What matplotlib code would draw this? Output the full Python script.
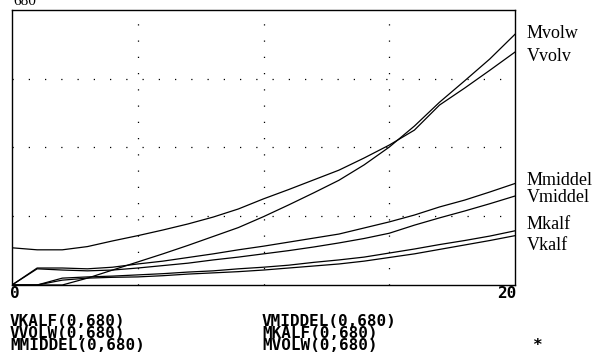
import numpy as np
import matplotlib
matplotlib.use("Agg")
import matplotlib.pyplot as plt

# ages 0..20, values (scale 0..680)
years = np.arange(21)

mvolw = [0, 0, 0, 17, 37, 57, 77, 98, 120, 142, 169, 198, 228, 259, 297, 341, 393, 452, 505, 559, 620]
vvolv = [92, 87, 87, 95, 109, 122, 136, 151, 168, 188, 213, 236, 260, 284, 314, 346, 383, 445, 487, 531, 576]
mmiddel = [0, 42, 42, 40, 44, 52, 59, 68, 77, 87, 96, 106, 116, 126, 141, 156, 173, 193, 210, 230, 251]
vmiddel = [0, 40, 37, 35, 37, 42, 48, 54, 62, 69, 77, 85, 94, 104, 115, 128, 148, 166, 183, 201, 220]
mkalf = [0, 0, 17, 20, 22, 25, 28, 32, 35, 40, 44, 49, 56, 62, 69, 79, 89, 100, 110, 121, 134]
vkalf = [0, 0, 12, 17, 19, 20, 23, 27, 30, 33, 37, 42, 47, 52, 59, 68, 77, 88, 99, 110, 122]

series = [mvolw, vvolv, mmiddel, vmiddel, mkalf, vkalf]
names = ["Mvolw", "Vvolv", "Mmiddel", "Vmiddel", "Mkalf", "Vkalf"]
label_base = [38, 61, 185, 202, 229, 250]  # baseline, px from top

left_legend = ["VKALF(0,680)", "VVOLW(0,680)", "MMIDDEL(0,680)"]
right_legend = ["VMIDDEL(0,680)", "MKALF(0,680)", "MVOLW(0,680)"]

W, H = 610, 358
fig = plt.figure(figsize=(W / 100, H / 100), dpi=100)
ax = fig.add_axes([12 / W, 1 - 285 / H, 503 / W, 275 / H])

for s in series:
    ax.plot(years, s, color="black", lw=0.9)

ax.set_xlim(0, 20)
ax.set_ylim(0, 680)
ax.set_xticks([5, 10, 15])
ax.set_yticks([170, 340, 510])
ax.tick_params(length=0, labelbottom=False, labelleft=False)
ax.grid(True, color="black", lw=0.9, linestyle=(0, (1, 12)))
for sp in ax.spines.values():
    sp.set_linewidth(1.0)

serif = "Liberation Serif"
mono = dict(family="DejaVu Sans Mono", weight="bold", fontsize=11.5)

for name, yb in zip(names, label_base):
    fig.text(527 / W, 1 - yb / H, name, family=serif, fontsize=13,
             va="baseline", ha="left")

fig.text(13 / W, 1 - 5 / H, "680", family=serif, fontsize=11, va="baseline")
fig.text(10 / W, 1 - 298 / H, "0", ha="left", va="baseline", **mono)
fig.text(516 / W, 1 - 298 / H, "20", ha="right", va="baseline", **mono)

for i, (a, b) in enumerate(zip(left_legend, right_legend)):
    yb = 1 - (326 + 12 * i) / H
    fig.text(10 / W, yb, a, ha="left", va="baseline", **mono)
    fig.text(262 / W, yb, b, ha="left", va="baseline", **mono)
fig.text(537 / W, 1 - 350 / H, "*", ha="center", va="baseline", **mono)

fig.savefig("out.png", dpi=100)
